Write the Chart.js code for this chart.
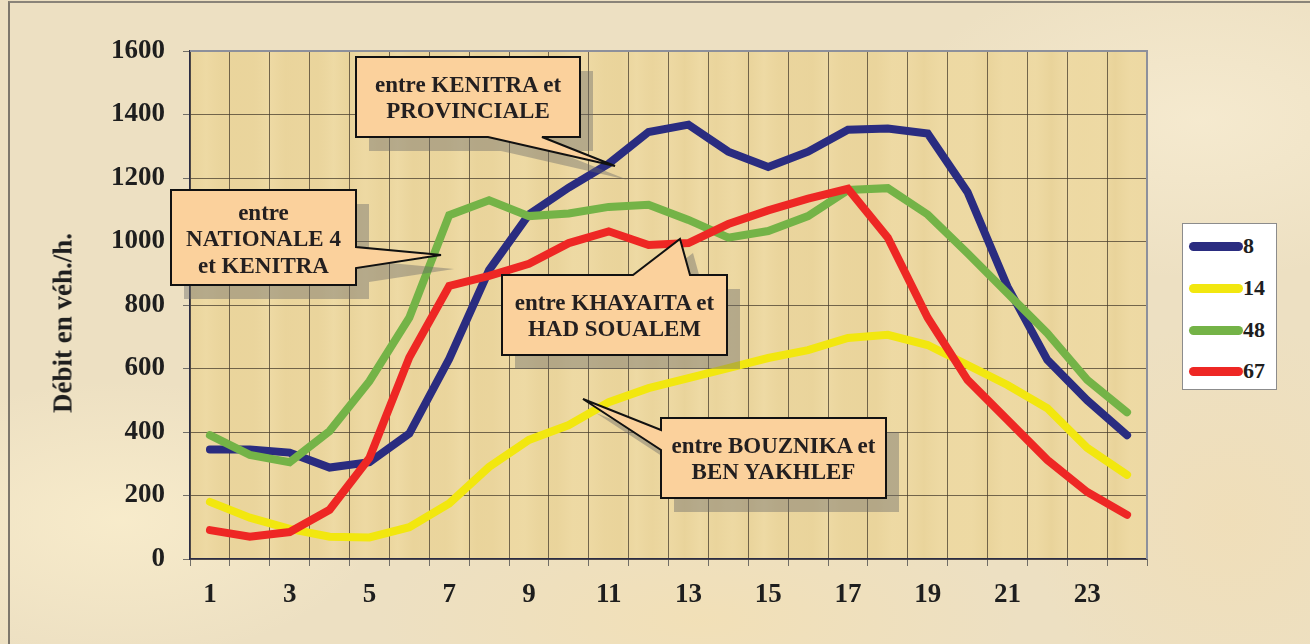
<!DOCTYPE html>
<html>
<head>
<meta charset="utf-8">
<script src="https://cdn.jsdelivr.net/npm/chart.js@4.4.1/dist/chart.umd.min.js"></script>
<style>
  html, body { margin:0; padding:0; }
  body {
    width:1310px; height:644px; overflow:hidden; position:relative;
    background:
      radial-gradient(ellipse 260px 140px at 120px 520px, rgba(250,238,205,.8), rgba(250,238,205,0)),
      radial-gradient(ellipse 300px 160px at 1200px 120px, rgba(247,236,210,.8), rgba(247,236,210,0)),
      radial-gradient(ellipse 320px 120px at 700px 620px, rgba(242,224,182,.9), rgba(242,224,182,0)),
      radial-gradient(ellipse 200px 200px at 1230px 520px, rgba(240,222,184,.9), rgba(240,222,184,0)),
      #ede0c2;
    font-family:"Liberation Serif", "Times New Roman", serif;
  }
  #frame { position:absolute; left:8px; top:1px; width:1310px; height:660px;
    border-left:2px solid #7d776c; border-top:2px solid #8a8479; box-sizing:border-box; }
  canvas { position:absolute; left:0; top:0; }
  #ytitle { position:absolute; left:63px; top:323px; transform:translate(-50%,-50%) rotate(-90deg);
    font-weight:bold; font-size:27px; color:#1e1e1e; white-space:nowrap; }
  #legend { position:absolute; left:1182px; top:223px; width:95px; height:167px; box-sizing:border-box;
    background:#fff; border:1px solid #8c8c8c; }
  #legend .it { position:absolute; left:6px; height:24px; display:flex; align-items:center; }
  #legend .sw { width:54px; height:9px; border-radius:5px; }
  #legend .lb { font-weight:bold; font-size:22px; color:#1e1e1e; margin-left:0; line-height:24px; }
  svg { position:absolute; left:0; top:0; }
</style>
</head>
<body>
<div id="frame"></div>
<canvas id="c" width="1310" height="644"></canvas>
<div id="ytitle">Débit en véh./h.</div>
<div id="legend"></div>
<svg id="notes" width="1310" height="644"></svg>
<script>
// Débit horaire par section de route
const hours = [1,2,3,4,5,6,7,8,9,10,11,12,13,14,15,16,17,18,19,20,21,22,23,24];
const names = ["8", "14", "48", "67"];
const colors = ["#2a2c80", "#f2e70f", "#74b347", "#ee2724"];

const s8  = [345,345,335,288,305,395,630,910,1085,1170,1245,1345,1368,1283,1235,1283,1352,1356,1340,1155,858,627,500,390];
const s14 = [180,130,95,70,68,100,175,290,375,422,494,538,570,601,633,658,696,706,674,611,548,475,350,265];
const s48 = [390,328,305,403,560,760,1083,1130,1080,1088,1109,1116,1068,1012,1033,1080,1162,1168,1085,963,837,711,564,462];
const s67 = [91,70,85,155,318,635,860,892,930,995,1032,989,995,1055,1098,1135,1166,1012,760,564,438,312,211,139];
const series = [s8, s14, s48, s67];

const yTicks = [0,200,400,600,800,1000,1200,1400,1600];

// bulles d'annotation
const notes = [
  { lines:["entre KENITRA et","PROVINCIALE"], box:[356,57,580,137],
    path:"M356,57 H580 V137 H542 L615,166 L488,137 H356 Z", base:[92,118] },
  { lines:["entre","NATIONALE 4","et KENITRA"], box:[171,190,356,285],
    path:"M171,190 H356 V247 L441,255 L356,268 V285 H171 Z", base:[220,246,273] },
  { lines:["entre KHAYAITA et","HAD SOUALEM"], box:[502,275,727,355],
    path:"M502,275 H633 L680,239 L690,275 H727 V355 H502 Z", base:[310,336] },
  { lines:["entre BOUZNIKA et","BEN YAKHLEF"], box:[661,418,886,498],
    path:"M661,418 H886 V498 H661 V450 L583,399 L661,430 Z", base:[453,479] },
];

const plotBg = {
  id:"plotBg",
  beforeDraw(c) {
    const { ctx, chartArea:a } = c;
    ctx.save();
    ctx.fillStyle = "#ecd7a0";
    ctx.fillRect(a.left, a.top, a.right-a.left, a.bottom-a.top);
    // stries verticales du papyrus
    const g = ctx.createLinearGradient(a.left, 0, a.right, 0);
    for (let i = 0; i <= 60; i++) {
      const t = i/60;
      const k = 0.5 + 0.5*Math.sin(i*2.3) * Math.cos(i*0.7);
      g.addColorStop(t, `rgba(${k>0.5?250:215},${k>0.5?236:190},${k>0.5?190:120},${0.08+0.14*Math.abs(k-0.5)})`);
    }
    ctx.fillStyle = g;
    ctx.fillRect(a.left, a.top, a.right-a.left, a.bottom-a.top);
    ctx.restore();
  },
  afterDatasetsDraw(c) {
    const { ctx, chartArea:a } = c;
    ctx.save();
    ctx.strokeStyle = "#8d909b"; ctx.lineWidth = 2;
    ctx.beginPath();
    ctx.moveTo(a.left, a.top); ctx.lineTo(a.right, a.top); ctx.lineTo(a.right, a.bottom);
    ctx.stroke();
    ctx.restore();
  },
};

const FONT = { family:"'Liberation Serif', 'Times New Roman', serif", weight:"bold", size:27 };
const GRIDC = "rgba(72,62,45,.75)";

new Chart(document.getElementById("c"), {
  type:"line",
  data:{
    labels: hours,
    datasets: series.map((d,i) => ({
      label:names[i], data:d, borderColor:colors[i], backgroundColor:colors[i],
      borderWidth:8, borderCapStyle:"round", borderJoinStyle:"miter",
      pointRadius:0, tension:0, order:series.length-1-i,
    })),
  },
  options:{
    responsive:false, devicePixelRatio:1, animation:false,
    layout:{ padding:{ left:0, top:51, right:163, bottom:0 } },
    plugins:{ legend:{ display:false }, tooltip:{ enabled:false } },
    scales:{
      x:{
        offset:true,
        grid:{ offset:true, color:GRIDC, lineWidth:1, tickLength:7, tickColor:"rgba(80,80,80,.8)" },
        border:{ color:"#2b2d45", width:1.5 },
        ticks:{ font:FONT, color:"#1e1e1e", padding:13, autoSkip:false, maxRotation:0,
          callback(v, i) { return i % 2 === 0 ? String(hours[i]) : ""; } },
        afterFit(s) { s.height = 85; },
      },
      y:{
        min:0, max:1600,
        grid:{ color:GRIDC, lineWidth:1, tickLength:7, tickColor:"rgba(80,80,80,.8)" },
        border:{ color:"#2b2d45", width:1.5 },
        afterBuildTicks(s) { s.ticks = yTicks.map(v => ({ value:v })); },
        ticks:{ font:FONT, color:"#1e1e1e", padding:18, callback:(v) => String(v) },
        afterFit(s) { s.width = 190; },
      },
    },
  },
  plugins:[plotBg],
});

// légende
const leg = document.getElementById("legend");
const legTop = [10, 52, 94, 135];
names.forEach((n,i) => {
  const it = document.createElement("div");
  it.className = "it"; it.style.top = legTop[i] + "px";
  it.innerHTML = `<div class="sw" style="background:${colors[i]}"></div><div class="lb">${n}</div>`;
  leg.appendChild(it);
});

// bulles
const NS = "http://www.w3.org/2000/svg";
const svg = document.getElementById("notes");
notes.forEach(n => {
  const sh = document.createElementNS(NS, "path");
  sh.setAttribute("d", n.path); sh.setAttribute("transform", "translate(13,14)");
  sh.setAttribute("fill", "rgba(105,105,105,.42)");
  svg.appendChild(sh);
});
notes.forEach(n => {
  const p = document.createElementNS(NS, "path");
  p.setAttribute("d", n.path); p.setAttribute("fill", "#fbd19c");
  p.setAttribute("stroke", "#111"); p.setAttribute("stroke-width", "2");
  svg.appendChild(p);
  const cx = (n.box[0] + n.box[2]) / 2;
  n.lines.forEach((ln, j) => {
    const t = document.createElementNS(NS, "text");
    t.setAttribute("x", cx); t.setAttribute("y", n.base[j]);
    t.setAttribute("text-anchor", "middle");
    t.setAttribute("font-family", "Liberation Serif, Times New Roman, serif");
    t.setAttribute("font-weight", "bold"); t.setAttribute("font-size", "23");
    t.setAttribute("fill", "#231f20");
    t.textContent = ln;
    svg.appendChild(t);
  });
});
</script>
</body>
</html>
